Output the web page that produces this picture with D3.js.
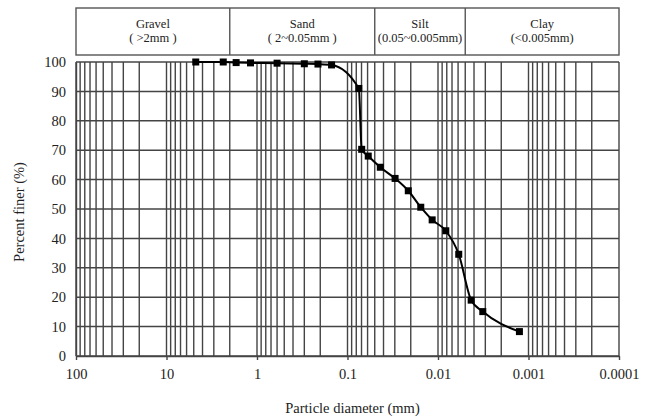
<!DOCTYPE html>
<html>
<head>
<meta charset="utf-8">
<script src="https://cdn.jsdelivr.net/npm/d3@7"></script>
<style>
  body { margin: 0; background: #fff; }
  svg { display: block; font-family: "Liberation Serif", "Times New Roman", serif; }
</style>
</head>
<body>
<svg id="chart" width="655" height="419"></svg>
<script>
// Grain size distribution data.
const diameters = [4.75, 2.36, 1.7, 1.18, 0.6, 0.3, 0.212, 0.15, 0.075, 0.0697, 0.059,
  0.0434, 0.0298, 0.0213, 0.0155, 0.0116, 0.0082, 0.0059, 0.0043, 0.0032, 0.00126];
const percents  = [100, 100, 99.8, 99.7, 99.6, 99.4, 99.3, 99.0, 91.0, 70.3, 68.0,
  64.2, 60.4, 56.2, 50.6, 46.3, 42.6, 34.6, 19.0, 15.1, 8.3];

// Soil classes shown in the header strip.
const classNames  = ['Gravel', 'Sand', 'Silt', 'Clay'];
const classRanges = ['( >2mm )', '( 2~0.05mm )', '(0.05~0.005mm)', '(<0.005mm)'];
const classBounds = [100, 2, 0.05, 0.005, 0.0001];

const xTicks = [100, 10, 1, 0.1, 0.01, 0.001, 0.0001];
const yTicks = d3.range(0, 101, 10);

const margin = { left: 76, right: 36, top: 62, bottom: 63 };
const width  = 655, height = 419;

const svg = d3.select('#chart');

const x = d3.scaleLog().domain([100, 0.0001]).range([margin.left, width - margin.right]);
const y = d3.scaleLinear().domain([0, 100]).range([height - margin.bottom, margin.top]);

const gridColor = '#444';

// Vertical grid: every 1..9 multiple in each decade.
const minorX = [];
for (let e = -4; e < 2; e++) {
  for (let m = 1; m < 10; m++) minorX.push(m * Math.pow(10, e));
}
minorX.push(100);

svg.append('g')
  .selectAll('line')
  .data(minorX)
  .join('line')
    .attr('x1', d => x(d)).attr('x2', d => x(d))
    .attr('y1', y(0)).attr('y2', y(100))
    .attr('stroke', gridColor)
    .attr('stroke-width', 1.4);

// Horizontal grid.
svg.append('g')
  .selectAll('line')
  .data(yTicks)
  .join('line')
    .attr('x1', x(100)).attr('x2', x(0.0001))
    .attr('y1', d => y(d)).attr('y2', d => y(d))
    .attr('stroke', gridColor)
    .attr('stroke-width', 1.5);

// Axes.
const xAxis = d3.axisBottom(x).tickValues(xTicks).tickFormat(d => String(d)).tickSize(4).tickSizeOuter(0);
svg.append('g')
  .attr('transform', `translate(0,${y(0)})`)
  .call(xAxis)
  .call(g => g.select('.domain').attr('stroke', gridColor).attr('stroke-width', 1.5))
  .call(g => g.selectAll('.tick line').attr('stroke', gridColor).attr('stroke-width', 1.4))
  .call(g => g.selectAll('.tick text')
    .attr('dy', '1.1em')
    .attr('font-size', 14.5)
    .attr('font-family', '"Liberation Serif", serif')
    .attr('fill', '#222'));

const yAxis = d3.axisLeft(y).tickValues(yTicks).tickSize(0).tickPadding(10);
svg.append('g')
  .attr('transform', `translate(${x(100)},0)`)
  .call(yAxis)
  .call(g => g.select('.domain').attr('stroke', gridColor).attr('stroke-width', 1.4))
  .call(g => g.selectAll('.tick text')
    .attr('font-size', 14.5)
    .attr('font-family', '"Liberation Serif", serif')
    .attr('fill', '#222'));

// Header strip with soil classes.
const headTop = 8, headBottom = 55;
const head = svg.append('g');
head.append('rect')
  .attr('x', x(100)).attr('y', headTop)
  .attr('width', x(0.0001) - x(100)).attr('height', headBottom - headTop)
  .attr('fill', 'none').attr('stroke', '#555').attr('stroke-width', 1.4);
head.selectAll('line.sep')
  .data(classBounds.slice(1, -1))
  .join('line')
    .attr('class', 'sep')
    .attr('x1', d => x(d)).attr('x2', d => x(d))
    .attr('y1', headTop).attr('y2', headBottom)
    .attr('stroke', '#555').attr('stroke-width', 1.4);

const labels = head.selectAll('g.cls')
  .data(classNames.map((n, i) => ({ name: n, range: classRanges[i], a: classBounds[i], b: classBounds[i + 1] })))
  .join('g')
    .attr('class', 'cls')
    .attr('transform', d => `translate(${(x(d.a) + x(d.b)) / 2},0)`);
labels.append('text')
  .attr('y', 28).attr('text-anchor', 'middle')
  .attr('font-size', 12.5).attr('fill', '#222')
  .text(d => d.name);
labels.append('text')
  .attr('y', 42).attr('text-anchor', 'middle')
  .attr('font-size', 12.5).attr('fill', '#222')
  .text(d => d.range);

// Gradation curve.
const pts = diameters.map((d, i) => [d, percents[i]]);
const line = d3.line()
  .x(d => x(d[0]))
  .y(d => y(d[1]))
  .curve(d3.curveMonotoneX);

svg.append('path')
  .datum(pts)
  .attr('d', line)
  .attr('fill', 'none')
  .attr('stroke', '#000')
  .attr('stroke-width', 2);

svg.append('g')
  .selectAll('rect')
  .data(pts)
  .join('rect')
    .attr('x', d => x(d[0]) - 3.5)
    .attr('y', d => y(d[1]) - 3.5)
    .attr('width', 7).attr('height', 7)
    .attr('fill', '#000');

// Axis titles.
svg.append('text')
  .attr('x', (x(100) + x(0.0001)) / 2 + 5)
  .attr('y', 413)
  .attr('text-anchor', 'middle')
  .attr('font-size', 14.5).attr('fill', '#222')
  .text('Particle diameter (mm)');

svg.append('text')
  .attr('transform', `translate(24,${(y(0) + y(100)) / 2 + 3}) rotate(-90)`)
  .attr('text-anchor', 'middle')
  .attr('font-size', 14.5).attr('fill', '#222')
  .text('Percent finer (%)');
</script>
</body>
</html>
